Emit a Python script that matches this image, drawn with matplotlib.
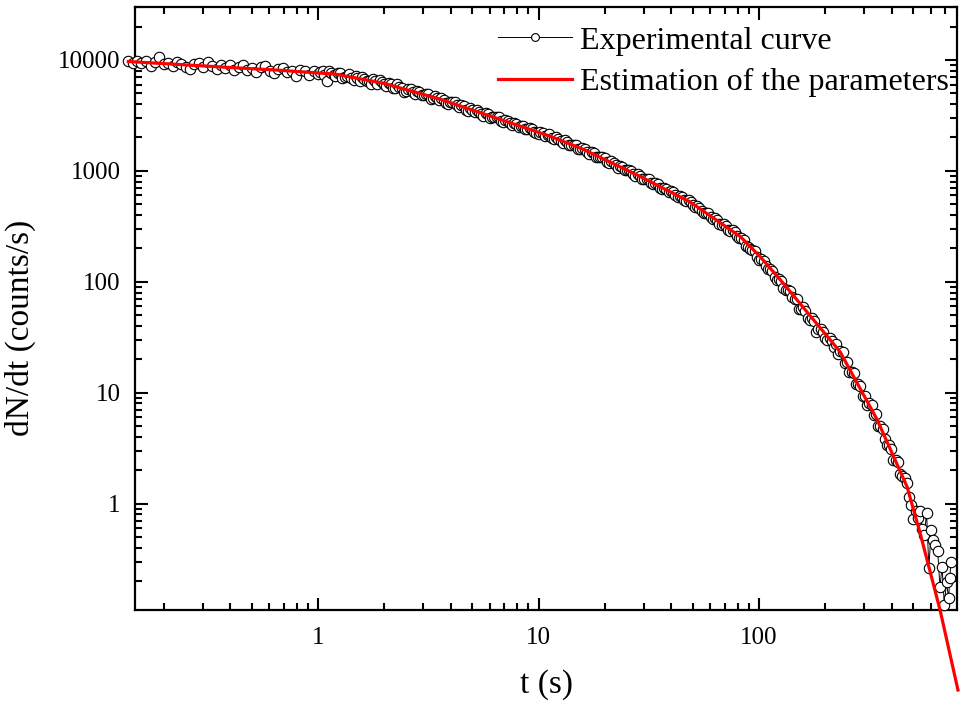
import matplotlib
matplotlib.use("Agg")
import matplotlib.pyplot as plt
from matplotlib.ticker import FixedLocator, NullFormatter, FixedFormatter, LogLocator

plt.rcParams['font.family'] = ['Liberation Serif', 'DejaVu Serif']

# ---- experimental curve ----
t_exp = [
    0.138, 0.145, 0.151, 0.158, 0.166, 0.174, 0.182, 0.191, 0.200, 0.209, 0.219, 0.229, 0.240,
    0.251, 0.263, 0.275, 0.288, 0.302, 0.316, 0.331, 0.347, 0.363, 0.380, 0.398, 0.417, 0.437,
    0.457, 0.479, 0.501, 0.525, 0.550, 0.575, 0.603, 0.631, 0.661, 0.692, 0.724, 0.759, 0.794,
    0.832, 0.871, 0.912, 0.955,
    1.00, 1.05, 1.10, 1.15, 1.20, 1.26, 1.32, 1.38, 1.45, 1.51, 1.58, 1.66, 1.74, 1.82, 1.91,
    2.00, 2.09, 2.19, 2.29, 2.40, 2.51, 2.63, 2.75, 2.88, 3.02, 3.16, 3.31, 3.47, 3.63, 3.80,
    3.98, 4.17, 4.37, 4.57, 4.79, 5.01, 5.25, 5.50, 5.75, 6.03, 6.31, 6.61, 6.92, 7.24, 7.59,
    7.94, 8.32, 8.71, 9.12, 9.55,
    10.0, 10.5, 11.0, 11.5, 12.0, 12.6, 13.2, 13.8, 14.5, 15.1, 15.8, 16.6, 17.4, 18.2, 19.1,
    20.0, 20.9, 21.9, 22.9, 24.0, 25.1, 26.3, 27.5, 28.8, 30.2, 31.6, 33.1, 34.7, 36.3, 38.0,
    39.8, 41.7, 43.7, 45.7, 47.9, 50.1, 52.5, 55.0, 57.5, 60.3, 63.1, 66.1, 69.2, 72.4, 75.9,
    79.4, 83.2, 87.1, 91.2, 95.5,
    100, 105, 110, 115, 120, 126, 132, 138, 145, 151, 158, 166, 174, 182, 191, 200, 209, 219,
    224, 229, 234, 240, 246, 251, 257, 263, 269, 275, 282, 288, 295, 302, 309, 316, 324, 331,
    339, 347, 355, 363, 372, 380, 389, 398, 407, 417, 427, 437, 447, 457, 468,
    479, 490, 501, 513, 525, 537, 550, 562, 575, 589, 603, 617, 631, 646, 661, 676, 692, 708,
    724, 733, 741,
]
counts_exp = [
    9680, 9380, 9750, 9440, 9820, 8790, 9590, 10700, 9100, 9480, 8770, 9510, 9180,
    8710, 8240, 9140, 9400, 8630, 9640, 8890, 8260, 8950, 8490, 8950, 8170, 8590,
    8970, 8150, 8410, 7830, 8550, 8790, 8020, 7590, 8300, 8450, 7710, 8020, 7190,
    8170, 7930, 7380, 7910,
    7460, 7940, 6410, 7600, 7190, 7590, 7060, 7480, 6620, 6890, 6980, 6410, 6110, 6500, 6580,
    6050, 6150, 5600, 6080, 5600, 5220, 5510, 4880, 5090, 4820, 4910, 4500, 4570, 4570, 4100,
    4140, 4190, 3790, 3860, 3480, 3570, 3540, 3270, 3300, 3020, 3080, 3050, 2770, 2790, 2570,
    2670, 2530, 2390, 2450, 2260,
    2130, 2210, 2110, 1960, 2010, 1870, 1890, 1710, 1710, 1560, 1600, 1490, 1480, 1340, 1330,
    1310, 1180, 1170, 1070, 1090, 1010, 1000, 908, 902, 838, 840, 766, 759, 684, 681,
    661, 600, 594, 543, 543, 497, 484, 431, 421, 383, 378, 331, 329, 291, 291,
    261, 247, 210, 198, 188,
    158, 153, 131, 125, 103, 102, 84.1, 81.8, 69.3, 57.3, 59.6, 47.5, 46.7, 35.6, 37.9, 31.3, 31.1, 25.6,
    27.5, 22.2, 23.9, 23.3, 18.7, 19.1, 15.4, 15.4, 15.2, 11.9, 12.1, 11.6, 9.44, 9.31, 7.71, 8.05, 7.74, 6.35,
    6.41, 4.97, 5.02, 4.75, 3.82, 3.40, 3.37, 3.08, 2.48, 2.45, 2.37, 1.87, 1.76, 1.71, 1.54,
    1.15, 0.977, 0.724, 0.851, 0.741, 0.851, 0.589, 0.525, 0.832, 0.263, 0.575, 0.468, 0.427, 0.372,
    0.178, 0.269, 0.123, 0.195, 0.141, 0.214, 0.295,
]
# denser samples in the middle of the decay (between the points above)
t_exp_mid = [
    1.02, 1.07, 1.12, 1.18, 1.23, 1.29, 1.35, 1.41, 1.48, 1.55, 1.62, 1.70, 1.78, 1.86, 1.95,
    2.04, 2.14, 2.24, 2.34, 2.46, 2.57, 2.69, 2.82, 2.95, 3.09, 3.24, 3.39, 3.55, 3.72, 3.89,
    4.07, 4.27, 4.47, 4.68, 4.90, 5.13, 5.37, 5.62, 5.89, 6.17, 6.46, 6.76, 7.08, 7.41, 7.76,
    8.13, 8.51, 8.91, 9.33, 9.77,
    10.2, 10.7, 11.2, 11.8, 12.3, 12.9, 13.5, 14.1, 14.8, 15.5, 16.2, 17.0, 17.8, 18.6, 19.5,
    20.4, 21.4, 22.4, 23.4, 24.6, 25.7, 26.9, 28.2, 29.5, 30.9, 32.4, 33.9, 35.5, 37.2, 38.9,
    40.7, 42.7, 44.7, 46.8, 49.0, 51.3, 53.7, 56.2, 58.9, 61.7, 64.6, 67.6, 70.8, 74.1, 77.6,
    81.3, 85.1, 89.1, 93.3, 97.7,
    102, 107, 112, 118, 123, 129, 135, 141, 148, 155, 162, 170, 178, 186, 195, 204, 214,
]
counts_exp_mid = [
    7830, 7260, 7910, 7350, 7550, 6850, 7230, 6810, 7180, 6460, 6780, 6440, 6780, 6110, 6340,
    5790, 6110, 5620, 5660, 5180, 5480, 5150, 5280, 4780, 4920, 4480, 4740, 4370, 4390, 4020,
    4200, 3890, 3910, 3570, 3690, 3400, 3410, 3140, 3280, 3030, 3050, 2810, 2880, 2700, 2680,
    2470, 2540, 2370, 2400, 2200,
    2230, 2070, 2130, 1950, 1950, 1790, 1830, 1710, 1710, 1560, 1570, 1430, 1440, 1330, 1320,
    1190, 1220, 1120, 1110, 1010, 1010, 932, 939, 845, 848, 780, 776, 704, 703, 649,
    646, 581, 583, 536, 525, 475, 467, 421, 414, 366, 361, 326, 317, 286, 281,
    248, 237, 205, 194, 169,
    160, 138, 131, 111, 105, 88.3, 85.1, 72.4, 70.1, 57.4, 54.5, 45.5, 44.7, 37.3, 35.3, 29.9, 29.0,
]

# ---- estimation of the parameters (fitted curve) ----
t_fit = [0.138, 0.398, 0.631, 1.20, 2.00, 3.58, 6.31, 11.3, 15.9, 28.8, 48.6, 82.0, 101,
         124.5, 233, 343, 469, 537, 662, 798]
counts_fit = [9680, 8550, 8130, 7450, 6140, 4430, 3030, 2050, 1570, 893, 525, 257, 169,
              105, 23.4, 5.73, 1.42, 0.547, 0.110, 0.0209]

x_major = [1, 10, 100]
x_major_labels = ['1', '10', '100']
y_major = [1, 10, 100, 1000, 10000]
y_major_labels = ['1', '10', '100', '1000', '10000']

# merge both sample sets in time order
pairs = sorted(zip(t_exp + t_exp_mid, counts_exp + counts_exp_mid))
t_all = [p[0] for p in pairs]
c_all = [p[1] for p in pairs]

fig = plt.figure(figsize=(9.6, 7.04), dpi=100)
ax = fig.add_axes([135/960, 1-610/704, (957-135)/960, (610-7)/704])

ax.plot(t_all, c_all, color='black', lw=0.7, marker='o', ms=7.5, mfc='white',
        mec='black', mew=0.8, clip_on=False, zorder=3, label='Experimental curve')
ax.plot(t_fit, counts_fit, color='#ff0000', lw=2.3, clip_on=False, zorder=4,
        label='Estimation of the parameters')

ax.set_xscale('log')
ax.set_yscale('log')
ax.set_xlim(0.148, 790)
ax.set_ylim(0.11, 30000)

ax.xaxis.set_major_locator(FixedLocator(x_major))
ax.xaxis.set_major_formatter(FixedFormatter(x_major_labels))
ax.yaxis.set_major_locator(FixedLocator(y_major))
ax.yaxis.set_major_formatter(FixedFormatter(y_major_labels))
ax.xaxis.set_minor_locator(LogLocator(base=10, subs=range(2, 10), numticks=20))
ax.yaxis.set_minor_locator(LogLocator(base=10, subs=range(2, 10), numticks=20))
ax.xaxis.set_minor_formatter(NullFormatter())
ax.yaxis.set_minor_formatter(NullFormatter())

ax.tick_params(which='both', direction='in', top=True, right=True, width=1.5)
ax.tick_params(which='major', length=9, labelsize=18)
ax.tick_params(axis='x', which='major', pad=12)
ax.tick_params(axis='y', which='major', pad=10.5)
ax.tick_params(which='minor', length=5)
for s in ax.spines.values():
    s.set_linewidth(1.6)

ax.set_xlabel('t (s)', fontsize=24, labelpad=15)
ax.set_ylabel('dN/dt (counts/s)', fontsize=24)
ax.yaxis.set_label_coords(-0.12, 0.468)

leg = ax.legend(loc='upper right', bbox_to_anchor=(1.013, 1.0), frameon=False, fontsize=23,
                handlelength=2.3, handletextpad=0.25, labelspacing=0.37, borderpad=0.1,
                borderaxespad=0.5, markerscale=0.75)

fig.savefig('out.png', dpi=100)
